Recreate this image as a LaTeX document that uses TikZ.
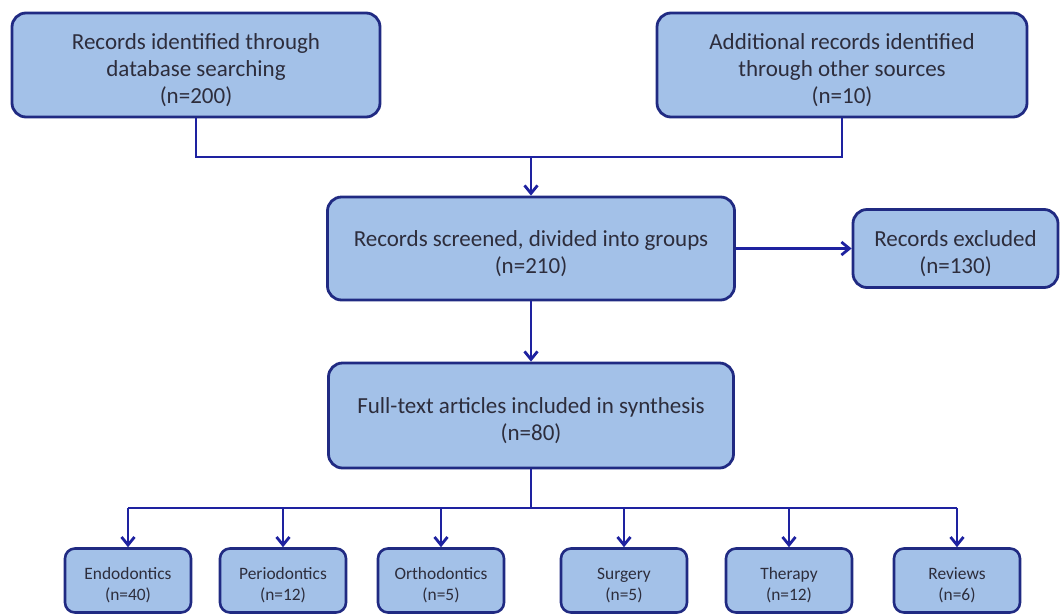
\documentclass[tikz,border=0pt]{standalone}
\usepackage{fontspec}
\setmainfont{Carlito}
\usepackage{xcolor}
\usepackage{tikz}
\usetikzlibrary{positioning,shapes,arrows,arrows.meta}

\definecolor{boxfill}{RGB}{163,193,232}
\definecolor{boxline}{RGB}{32,42,130}
\definecolor{flowline}{RGB}{30,34,160}
\definecolor{boxtext}{RGB}{45,45,60}

\begin{document}
\begin{tikzpicture}[x = 1pt, y = -1pt,
  bigbox/.style = {draw = boxline, fill = boxfill, line width = 2.8pt,
    rounded corners = 14pt, align = center, text = boxtext, inner sep = 0pt,
    font = \fontsize{23}{27}\selectfont, text height = 54pt},
  smallbox/.style = {draw = boxline, fill = boxfill, line width = 2.6pt,
    rounded corners = 10pt, align = center, text = boxtext, inner sep = 0pt,
    minimum width = 126pt, minimum height = 64pt,
    font = \fontsize{17.4}{20.5}\selectfont, text height = 42pt},
  flow/.style = {draw = flowline, line width = 2.8pt},
  tip/.style = {-{Straight Barb[length = 8pt, width = 13pt]}}]

  \useasboundingbox (0, 0) rectangle (1060, 614);

  \node[bigbox, minimum width = 368pt, minimum height = 104pt, text height = 81pt] (db) at (196, 65){
    Records identified through\\
    database searching\\
    (n=200)
  };

  \node[bigbox, minimum width = 370pt, minimum height = 104pt, text height = 81pt] (other) at (842, 65){
    Additional records identified\\
    through other sources\\
    (n=10)
  };

  \node[bigbox, minimum width = 407pt, minimum height = 103pt] (screened) at (531, 248.5){
    Records screened, divided into groups\\
    (n=210)
  };

  \node[bigbox, minimum width = 205pt, minimum height = 78pt] (excluded) at (955.5, 248.5){
    Records excluded\\
    (n=130)
  };

  \node[bigbox, minimum width = 405pt, minimum height = 105pt] (fulltext) at (531, 415.5){
    Full-text articles included in synthesis\\
    (n=80)
  };

  \node[smallbox] (endo) at (128, 580.5){
    Endodontics\\
    (n=40)
  };

  \node[smallbox] (perio) at (283, 580.5){
    Periodontics\\
    (n=12)
  };

  \node[smallbox] (ortho) at (441, 580.5){
    Orthodontics\\
    (n=5)
  };

  \node[smallbox] (surg) at (624, 580.5){
    Surgery\\
    (n=5)
  };

  \node[smallbox] (ther) at (789, 580.5){
    Therapy\\
    (n=12)
  };

  \node[smallbox] (rev) at (957, 580.5){
    Reviews\\
    (n=6)
  };

  \coordinate (merge) at (531, 157);
  \coordinate (split) at (531, 508);

  \draw[flow] (db.south) |- (merge) -| (other.south);
  \draw[flow, tip] (merge) -- (screened);
  \draw[flow, tip] (screened) -- (excluded);
  \draw[flow, tip] (screened) -- (fulltext);

  \draw[flow] (fulltext) -- (split);
  \draw[flow] (endo.north |- split) -- (rev.north |- split);
  \foreach \grp in {endo, perio, ortho, surg, ther, rev}
    \draw[flow, tip] (\grp.north |- split) -- (\grp);
\end{tikzpicture}
\end{document}
